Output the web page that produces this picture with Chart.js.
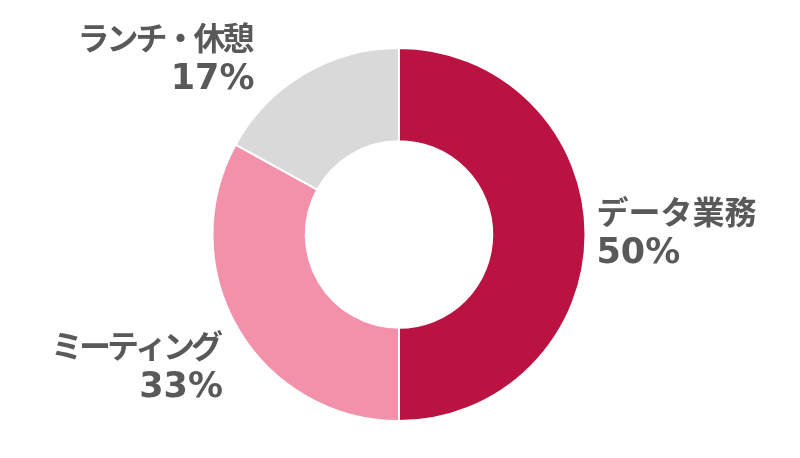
<!DOCTYPE html>
<html><head><meta charset="utf-8">
<script src="https://cdn.jsdelivr.net/npm/chart.js@4/dist/chart.umd.min.js"></script>
<style>html,body{margin:0;padding:0;background:#fff;}canvas{display:block;}</style>
</head><body>
<canvas id="c" width="800" height="458"></canvas>
<script>
const categories = ["データ業務", "ミーティング", "ランチ・休憩"];
const values = [50, 33, 17];
const colors = ["#BA1341", "#F291A9", "#D9D9D9"];

const labelPlugin = {
  id: 'outLabels',
  afterDatasetsDraw(chart, args, opts) {
    const ctx = chart.ctx;
    const meta = chart.getDatasetMeta(0);
    const total = values.reduce((a, b) => a + b, 0);
    ctx.save();
    ctx.fillStyle = '#595959';
    ctx.textBaseline = 'middle';
    meta.data.forEach((arc, i) => {
      const p = arc.getProps(['x', 'y', 'startAngle', 'endAngle', 'outerRadius'], true);
      const mid = (p.startAngle + p.endAngle) / 2;
      const r = p.outerRadius + opts.pad;
      const ax = p.x + Math.cos(mid) * r + opts.nudge[i][0];
      const ay = p.y + Math.sin(mid) * r + opts.nudge[i][1];
      const right = Math.cos(mid) <= 0.1;
      ctx.textAlign = right ? 'right' : 'left';
      const pct = Math.round(values[i] / total * 100) + '%';
      ctx.font = 'bold 32px "Noto Sans CJK JP"';
      ctx.letterSpacing = opts.spacing[i] + 'px';
      ctx.fillText(categories[i], ax + (right ? opts.spacing[i] : 0), ay - opts.lineGap / 2);
      ctx.letterSpacing = '0px';
      ctx.font = 'bold 35px "DejaVu Sans", "Noto Sans CJK JP"';
      ctx.fillText(pct, ax, ay + opts.lineGap / 2 + 1);
    });
    ctx.restore();
  }
};

new Chart(document.getElementById('c'), {
  type: 'doughnut',
  data: {
    labels: categories,
    datasets: [{
      data: values,
      backgroundColor: colors,
      borderColor: '#ffffff',
      borderWidth: 2,
      hoverOffset: 0
    }]
  },
  options: {
    responsive: false,
    animation: false,
    cutout: '50%',
    layout: { padding: { top: 47, bottom: 36, left: 0, right: 2 } },
    plugins: {
      legend: { display: false },
      tooltip: { enabled: false },
      outLabels: {
        pad: 11, lineGap: 41,
        spacing: [0, -4, -3],
        nudge: [[0, -2], [-6, 31], [-44, -6]]
      }
    }
  },
  plugins: [labelPlugin]
});
</script>
</body></html>
